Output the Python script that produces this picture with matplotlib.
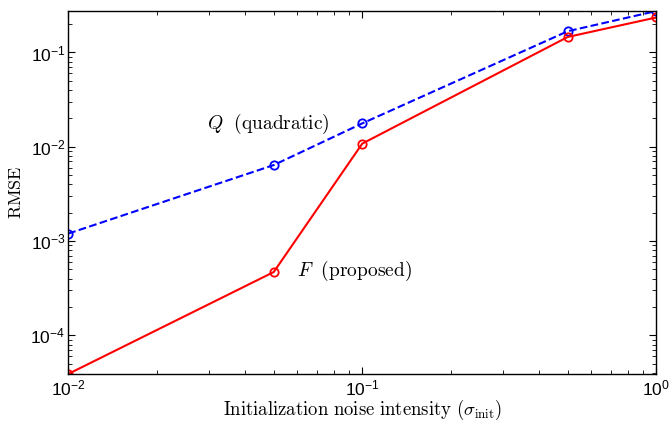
import numpy as np
import matplotlib
matplotlib.use("Agg")
import matplotlib.pyplot as plt

plt.rcParams['mathtext.fontset'] = 'cm'
plt.rcParams['font.family'] = ['Liberation Sans', 'DejaVu Sans']

# data
sigma = [0.01, 0.05, 0.1, 0.5, 1.0]
rmse_F = [3.9e-5, 4.7e-4, 1.08e-2, 1.46e-1, 2.35e-1]
rmse_Q = [1.2e-3, 6.4e-3, 1.77e-2, 1.68e-1, 2.75e-1]

fig = plt.figure(figsize=(6.69, 4.24), dpi=100)
ax = fig.add_axes([0.102, 0.118, 0.879, 0.856])

ax.loglog(sigma, rmse_Q, '--o', color='#0000ff', lw=1.5, ms=6, mfc='none', mew=1.3)
ax.loglog(sigma, rmse_F, '-o', color='#ff0000', lw=1.5, ms=6, mfc='none', mew=1.3)

ax.set_xlim(0.01, 1.0)
ax.set_ylim(min(rmse_F), max(rmse_Q))

ax.tick_params(which='both', direction='in', top=True, right=True, labelsize=12.5)
ax.tick_params(which='major', length=5)
ax.tick_params(which='minor', length=3)
ax.tick_params(axis='y', pad=2)
ax.tick_params(axis='x', pad=3)
for s in ax.spines.values():
    s.set_linewidth(1.0)

ax.set_xlabel(r'$\mathrm{Initialization\ noise\ intensity}\ (\sigma_{\mathrm{init}})$', fontsize=13.5)
ax.xaxis.set_label_coords(0.5, -0.066)
ax.set_ylabel(r'$\mathrm{RMSE}$', fontsize=13)
ax.yaxis.set_label_coords(-0.074, 0.5)

ax.text(0.0297, 1.75e-2, r'$Q\ \ \mathrm{(quadratic)}$', fontsize=14, va='center', ha='left')
ax.text(0.0598, 4.8e-4, r'$F\ \ \mathrm{(proposed)}$', fontsize=14, va='center', ha='left')

fig.savefig('out.png', dpi=100)
